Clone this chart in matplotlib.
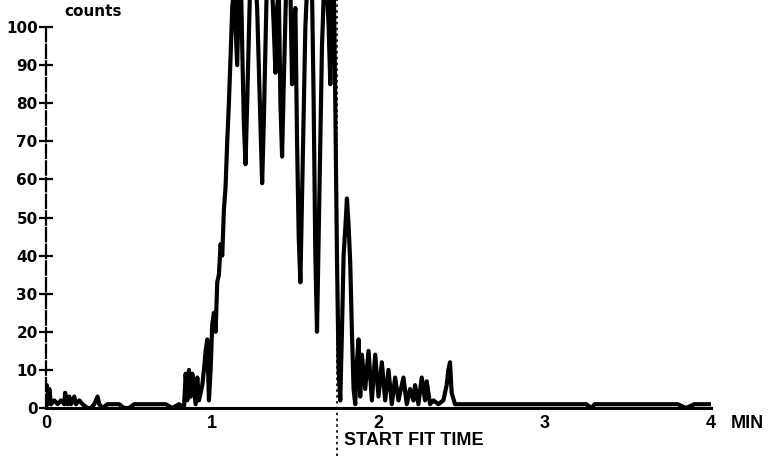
import matplotlib.pyplot as plt

# trace: time in minutes, detector counts
# baseline before the peak
base_t = [0.0, 0.005, 0.01, 0.02, 0.03, 0.05, 0.07, 0.09, 0.11, 0.115, 0.13,
          0.14, 0.15, 0.17, 0.18, 0.2, 0.22, 0.25, 0.27, 0.29, 0.31, 0.32,
          0.34, 0.37, 0.4, 0.44, 0.47, 0.5, 0.53, 0.57, 0.6, 0.64, 0.68,
          0.72, 0.76, 0.8, 0.83]
base_c = [0, 6, 1, 5, 1, 2, 1, 2, 1, 4, 1,
          3, 1, 3, 1, 2, 1, 0, 0, 1, 3, 1,
          0, 1, 1, 1, 0, 0, 1, 1, 1, 1, 1,
          1, 0, 1, 0]

# rising edge
rise_t = [0.84, 0.85, 0.86, 0.87, 0.88, 0.9, 0.91, 0.92, 0.94, 0.95, 0.96,
          0.97, 0.98, 0.99, 1.0, 1.01, 1.02, 1.03, 1.04, 1.05, 1.06, 1.07,
          1.08, 1.09, 1.1, 1.11, 1.12]
rise_c = [9, 2, 10, 3, 9, 1, 8, 2, 6, 10, 15,
          18, 2, 10, 22, 25, 20, 33, 35, 43, 40, 52,
          58, 70, 80, 92, 105]

# top of the peak (above 100 runs off the chart)
top_t = [1.13, 1.14, 1.15, 1.16, 1.17, 1.18, 1.19, 1.2, 1.21, 1.23, 1.25,
         1.27, 1.28, 1.29, 1.3, 1.31, 1.33, 1.35, 1.37, 1.38, 1.39, 1.4,
         1.41, 1.42, 1.43, 1.45, 1.47, 1.48, 1.49, 1.5, 1.51, 1.52, 1.53,
         1.54, 1.56, 1.58, 1.6, 1.61, 1.62, 1.63, 1.64, 1.66, 1.68, 1.7,
         1.71, 1.72, 1.73, 1.74, 1.75, 1.76, 1.77]
top_c = [110, 100, 90, 110, 118, 95, 75, 64, 80, 115, 120,
         105, 90, 75, 59, 75, 115, 120, 100, 88, 105, 110,
         80, 66, 85, 120, 110, 85, 100, 105, 70, 45, 33,
         55, 100, 120, 110, 80, 40, 20, 45, 95, 120, 100,
         85, 110, 115, 80, 40, 10, 2]

# after the peak: decaying bumps and flat tail
tail_t = [1.78, 1.79, 1.8, 1.81, 1.82, 1.83, 1.84, 1.85, 1.86, 1.87, 1.88,
          1.89, 1.9, 1.92, 1.94, 1.96, 1.98, 2.0, 2.02, 2.04, 2.06, 2.08,
          2.1, 2.12, 2.14, 2.15, 2.17, 2.19, 2.21, 2.22, 2.24, 2.26, 2.28,
          2.29, 2.31, 2.33, 2.36, 2.39, 2.41, 2.42, 2.43, 2.44, 2.46, 2.5,
          2.6, 2.7, 2.8, 2.9, 3.0, 3.1, 3.2, 3.25, 3.28, 3.3, 3.4, 3.5,
          3.6, 3.7, 3.8, 3.85, 3.9, 4.0]
tail_c = [20, 40, 47, 55, 48, 38, 20, 5, 1, 12, 18,
          3, 14, 5, 15, 2, 14, 3, 12, 2, 10, 1,
          8, 2, 6, 8, 1, 5, 2, 6, 1, 8, 2,
          7, 1, 2, 1, 2, 6, 10, 12, 4, 1, 1,
          1, 1, 1, 1, 1, 1, 1, 1, 0, 1, 1, 1,
          1, 1, 1, 0, 1, 1]

time_min = base_t + rise_t + top_t + tail_t
counts = base_c + rise_c + top_c + tail_c

y_ticks = [0, 10, 20, 30, 40, 50, 60, 70, 80, 90, 100]
x_ticks = [0, 1, 2, 3, 4]
fit_start = 1.75

fig = plt.figure(figsize=(7.72, 4.57), dpi=100)
ax = fig.add_axes([0.0596, 0.1072, 0.8614, 0.8928])

ax.plot(time_min, counts, color="black", lw=3)
ax.set_xlim(0, 4)
ax.set_ylim(0, 107.1)

for s in ["top", "right"]:
    ax.spines[s].set_visible(False)
ax.spines["left"].set_bounds(0, 100)
ax.spines["left"].set_linewidth(1.6)
ax.spines["left"].set_linestyle((0, (6, 1.5)))
ax.spines["bottom"].set_linewidth(2.2)

ax.set_yticks(y_ticks)
ax.set_yticklabels([str(v) for v in y_ticks], fontweight="bold",
                   fontsize=11, family="DejaVu Sans")
ax.tick_params(axis="y", direction="inout", length=10, width=1.6, pad=1)
ax.set_xticks(x_ticks)
ax.set_xticklabels([str(v) for v in x_ticks], fontsize=13,
                   family="Liberation Sans", fontweight="bold")
ax.tick_params(axis="x", length=0, pad=5)

ax.text(0.11, 104.2, "counts", fontsize=11, fontweight="bold",
        family="DejaVu Sans", va="center", clip_on=False)
ax.text(4.12, -1.8, "MIN", fontsize=13, fontweight="bold",
        family="Liberation Sans", va="top", clip_on=False)

# start of fit marker
ax.plot([fit_start, fit_start], [-12.5, 107.1], color="black", lw=1.2,
        ls=(0, (1.5, 2)), clip_on=False)
ax.text(fit_start + 0.04, -8.6, "START FIT TIME", fontsize=13,
        fontweight="bold", family="Liberation Sans", va="center",
        clip_on=False)

plt.savefig("out.png", dpi=100)
